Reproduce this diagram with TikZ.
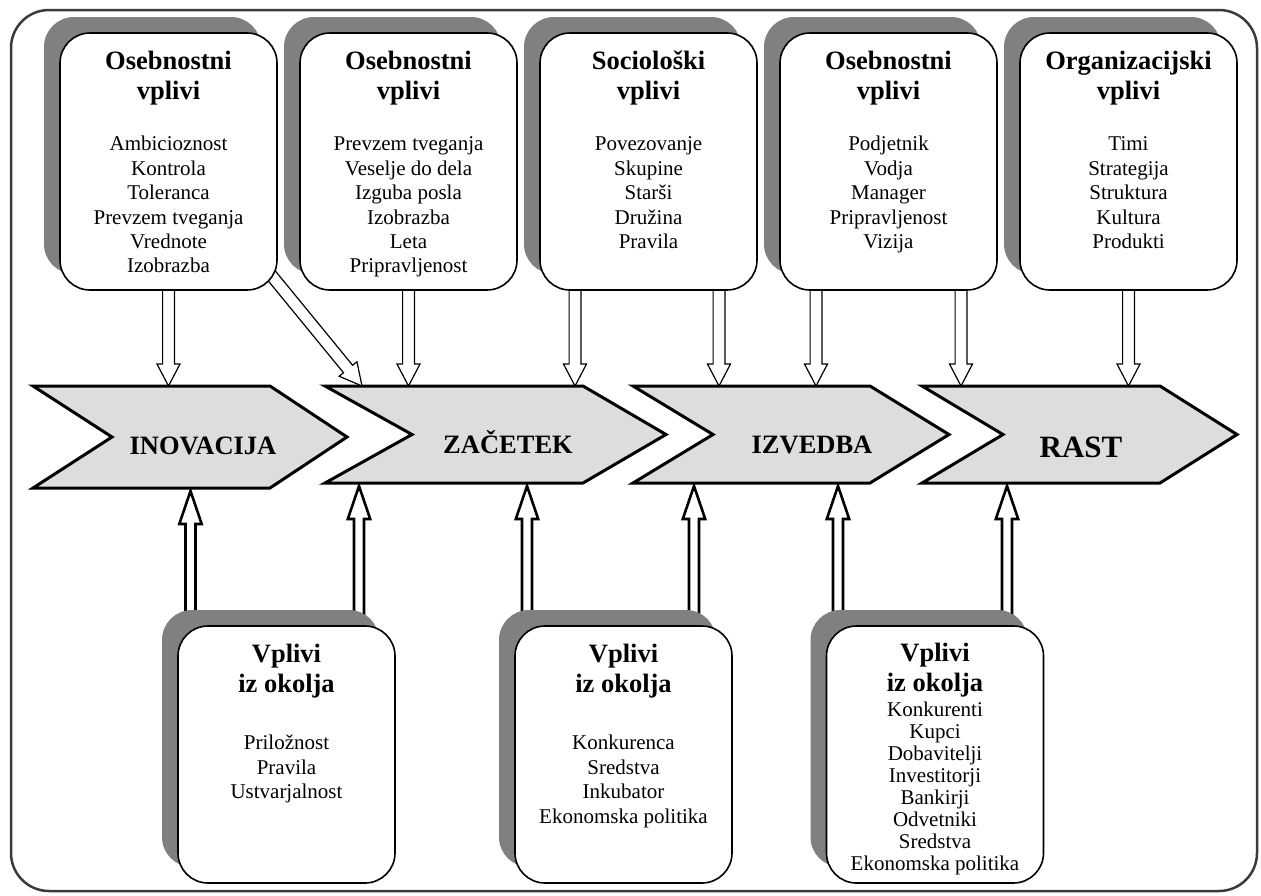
\documentclass[tikz,border=0pt]{standalone}
\usepackage{fontspec}
\setmainfont{Liberation Serif}
\usetikzlibrary{calc,shadows}
\definecolor{shadowgray}{HTML}{808080}
\definecolor{stagefill}{HTML}{DDDDDD}
\definecolor{framegray}{HTML}{3A3A3A}

% hollow block arrow: #1 style, #2 start, #3 tip, #4 half shaft, #5 half head, #6 head length
\newcommand\hollowarrow[6]{%
  \coordinate (ha-head) at ($(#3)!#6!(#2)$);
  \draw[#1] ($(#2)!#4!90:(#3)$) -- ($(ha-head)!#4!90:(#3)$) -- ($(ha-head)!#5!90:(#3)$)
    -- (#3) -- ($(ha-head)!#5!-90:(#3)$) -- ($(ha-head)!#4!-90:(#3)$)
    -- ($(#2)!#4!-90:(#3)$) -- cycle;
}

\tikzset{
  infobox/.style={draw=black, line width=1.6pt, fill=white, rounded corners=30pt,
    minimum width=217pt, minimum height=257pt, inner sep=0pt,
    drop shadow={shadow xshift=-16pt, shadow yshift=16pt, fill=shadowgray, opacity=1}},
  stage/.style={draw=black, line width=3pt, fill=stagefill, line join=miter},
  stagelabel/.style={anchor=base, inner sep=0pt, font=\fontsize{26.5}{30}\selectfont\bfseries},
  titletext/.style={anchor=base, inner sep=0pt, font=\fontsize{26.5}{30}\selectfont\bfseries},
  listtext/.style={anchor=base, inner sep=0pt, font=\fontsize{21}{24.4}\selectfont},
  denselist/.style={anchor=base, inner sep=0pt, font=\fontsize{21}{22}\selectfont},
  downarrow/.style={draw=black, line width=1.2pt, fill=white, line join=miter},
  uparrow/.style={draw=black, line width=2.6pt, fill=white, line join=miter},
}

\begin{document}
\begin{tikzpicture}[x=1pt, y=-1pt]
\useasboundingbox (0,0) rectangle (1261,895);

% outer frame
\draw[framegray, line width=2.5pt, rounded corners=38pt] (11,10) rectangle (1257,891);

% stages
\draw[stage] (33,386) coordinate (c1nw) -- (270,386) -- (347,437) -- (270,488)
  -- (33,488) coordinate (c1sw) -- (112,437) -- cycle;
\draw[stage] (325,386) coordinate (c2nw) -- (583,386) -- (666,434.5) -- (583,483)
  -- (325,483) coordinate (c2sw) -- (412,434.5) -- cycle;
\draw[stage] (633,386) coordinate (c3nw) -- (870,386) -- (949,434.5) -- (870,483)
  -- (633,483) coordinate (c3sw) -- (713,434.5) -- cycle;
\draw[stage] (922,386) coordinate (c4nw) -- (1160,386) -- (1237,434.5) -- (1160,483)
  -- (922,483) coordinate (c4sw) -- (1003,434.5) -- cycle;

\node[stagelabel] (c1label) at (203,454) {INOVACIJA};
\node[stagelabel] (c2label) at (508,453) {ZAČETEK};
\node[stagelabel] (c3label) at (812,453) {IZVEDBA};
\node[stagelabel, font=\fontsize{31}{34}\selectfont\bfseries] (c4label) at (1081,457) {RAST};

% box positions (boxes are drawn after the arrows)
\path (168.5,161.5) coordinate (t1c) (408.5,161.5) coordinate (t2c) (648.5,161.5) coordinate (t3c)
  (888.5,161.5) coordinate (t4c) (1128.5,161.5) coordinate (t5c)
  (286.5,754.5) coordinate (b1c) (623.5,754.5) coordinate (b2c) (935,754.5) coordinate (b3c);
\path (t1c) node[minimum width=217pt, minimum height=257pt, inner sep=0pt] (t1) {}
      (t2c) node[minimum width=217pt, minimum height=257pt, inner sep=0pt] (t2) {}
      (t3c) node[minimum width=217pt, minimum height=257pt, inner sep=0pt] (t3) {}
      (t4c) node[minimum width=217pt, minimum height=257pt, inner sep=0pt] (t4) {}
      (t5c) node[minimum width=217pt, minimum height=257pt, inner sep=0pt] (t5) {}
      (b1c) node[minimum width=217pt, minimum height=257pt, inner sep=0pt] (b1) {}
      (b2c) node[minimum width=217pt, minimum height=257pt, inner sep=0pt] (b2) {}
      (b3c) node[minimum width=217pt, minimum height=257pt, inner sep=0pt] (b3) {};

% arrow end points
\coordinate (d1s) at (t1.south);             \coordinate (d1e) at (d1s |- c1nw);
\coordinate (dgs) at ($(t1.south east)+(-15,-26)$); \coordinate (dge) at ($(c2nw)+(37,0)$);
\coordinate (d2s) at (t2.south);             \coordinate (d2e) at (d2s |- c2nw);
\coordinate (d3s) at ($(t3.south)+(-73.5,0)$); \coordinate (d3e) at (d3s |- c2nw);
\coordinate (d4s) at ($(t3.south)+(70.5,0)$);  \coordinate (d4e) at (d4s |- c3nw);
\coordinate (d5s) at ($(t4.south)+(-72.5,0)$); \coordinate (d5e) at (d5s |- c3nw);
\coordinate (d6s) at ($(t4.south)+(72.5,0)$);  \coordinate (d6e) at (d6s |- c4nw);
\coordinate (d7s) at (t5.south);             \coordinate (d7e) at (d7s |- c4nw);

\coordinate (u1s) at ($(b1.north)+(-96,0)$);   \coordinate (u1e) at ($(u1s |- c1sw)+(0,3)$);
\coordinate (u2s) at ($(b1.north)+(72.5,0)$);  \coordinate (u2e) at ($(u2s |- c2sw)+(0,3)$);
\coordinate (u3s) at ($(b2.north)+(-96.5,0)$); \coordinate (u3e) at ($(u3s |- c2sw)+(0,3)$);
\coordinate (u4s) at ($(b2.north)+(70.5,0)$);  \coordinate (u4e) at ($(u4s |- c3sw)+(0,3)$);
\coordinate (u5s) at ($(b3.north)+(-97,0)$);   \coordinate (u5e) at ($(u5s |- c3sw)+(0,3)$);
\coordinate (u6s) at ($(b3.north)+(72,0)$);    \coordinate (u6e) at ($(u6s |- c4sw)+(0,3)$);

% influence arrows into the stages
\hollowarrow{downarrow}{d1s}{d1e}{5.9pt}{11.5pt}{22pt}
\hollowarrow{downarrow}{dgs}{dge}{5.9pt}{11.5pt}{22pt}
\hollowarrow{downarrow}{d2s}{d2e}{5.9pt}{11.5pt}{22pt}
\hollowarrow{downarrow}{d3s}{d3e}{5.9pt}{11.5pt}{22pt}
\hollowarrow{downarrow}{d4s}{d4e}{5.9pt}{11.5pt}{22pt}
\hollowarrow{downarrow}{d5s}{d5e}{5.9pt}{11.5pt}{22pt}
\hollowarrow{downarrow}{d6s}{d6e}{5.9pt}{11.5pt}{22pt}
\hollowarrow{downarrow}{d7s}{d7e}{5.9pt}{11.5pt}{22pt}

\hollowarrow{uparrow}{u1s}{u1e}{5pt}{11.2pt}{33pt}
\hollowarrow{uparrow}{u2s}{u2e}{5pt}{11.2pt}{33pt}
\hollowarrow{uparrow}{u3s}{u3e}{5pt}{11.2pt}{33pt}
\hollowarrow{uparrow}{u4s}{u4e}{5pt}{11.2pt}{33pt}
\hollowarrow{uparrow}{u5s}{u5e}{5pt}{11.2pt}{33pt}
\hollowarrow{uparrow}{u6s}{u6e}{5pt}{11.2pt}{33pt}

% influence boxes
\foreach \b in {t1,t2,t3,t4,t5,b1,b2,b3}
  \node[infobox] (\b box) at (\b c) {};

% top boxes
\node[titletext] (t1title) at ($(t1.north)+(0,37)$) {\begin{tabular}[t]{@{}c@{}}Osebnostni\\vplivi\end{tabular}};
\node[listtext] (t1list) at ($(t1.north)+(0,118)$) {\begin{tabular}[t]{@{}c@{}}Ambicioznost\\Kontrola\\Toleranca\\Prevzem tveganja\\Vrednote\\Izobrazba\end{tabular}};

\node[titletext] (t2title) at ($(t2.north)+(0,37)$) {\begin{tabular}[t]{@{}c@{}}Osebnostni\\vplivi\end{tabular}};
\node[listtext] (t2list) at ($(t2.north)+(0,118)$) {\begin{tabular}[t]{@{}c@{}}Prevzem tveganja\\Veselje do dela\\Izguba posla\\Izobrazba\\Leta\\Pripravljenost\end{tabular}};

\node[titletext] (t3title) at ($(t3.north)+(0,37)$) {\begin{tabular}[t]{@{}c@{}}Sociološki\\vplivi\end{tabular}};
\node[listtext] (t3list) at ($(t3.north)+(0,118)$) {\begin{tabular}[t]{@{}c@{}}Povezovanje\\Skupine\\Starši\\Družina\\Pravila\end{tabular}};

\node[titletext] (t4title) at ($(t4.north)+(0,37)$) {\begin{tabular}[t]{@{}c@{}}Osebnostni\\vplivi\end{tabular}};
\node[listtext] (t4list) at ($(t4.north)+(0,118)$) {\begin{tabular}[t]{@{}c@{}}Podjetnik\\Vodja\\Manager\\Pripravljenost\\Vizija\end{tabular}};

\node[titletext] (t5title) at ($(t5.north)+(0,37)$) {\begin{tabular}[t]{@{}c@{}}Organizacijski\\vplivi\end{tabular}};
\node[listtext] (t5list) at ($(t5.north)+(0,118)$) {\begin{tabular}[t]{@{}c@{}}Timi\\Strategija\\Struktura\\Kultura\\Produkti\end{tabular}};

% bottom boxes
\node[titletext] (b1title) at ($(b1.north)+(0,37)$) {\begin{tabular}[t]{@{}c@{}}Vplivi\\iz okolja\end{tabular}};
\node[listtext] (b1list) at ($(b1.north)+(0,124)$) {\begin{tabular}[t]{@{}c@{}}Priložnost\\Pravila\\Ustvarjalnost\end{tabular}};

\node[titletext] (b2title) at ($(b2.north)+(0,37)$) {\begin{tabular}[t]{@{}c@{}}Vplivi\\iz okolja\end{tabular}};
\node[listtext] (b2list) at ($(b2.north)+(0,124)$) {\begin{tabular}[t]{@{}c@{}}Konkurenca\\Sredstva\\Inkubator\\Ekonomska politika\end{tabular}};

\node[titletext] (b3title) at ($(b3.north)+(0,36)$) {\begin{tabular}[t]{@{}c@{}}Vplivi\\iz okolja\end{tabular}};
\node[denselist] (b3list) at ($(b3.north)+(0,91)$) {\begin{tabular}[t]{@{}c@{}}Konkurenti\\Kupci\\Dobavitelji\\Investitorji\\Bankirji\\Odvetniki\\Sredstva\\Ekonomska politika\end{tabular}};
\end{tikzpicture}
\end{document}
